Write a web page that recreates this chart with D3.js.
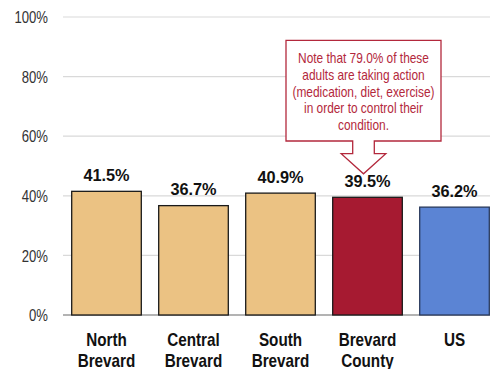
<!DOCTYPE html>
<html><head><meta charset="utf-8">
<script src="https://cdn.jsdelivr.net/npm/d3@7"></script>
<style>body{margin:0;background:#fff}svg{display:block}</style>
</head><body><div id="chart"></div>
<script>
const categories = [["North","Brevard"],["Central","Brevard"],["South","Brevard"],["Brevard","County"],["US"]];
const values = [41.5, 36.7, 40.9, 39.5, 36.2];
const barColors = ["#EBC283","#EBC283","#EBC283","#A61A31","#5B84D4"];
const yTicks = [0,20,40,60,80,100];
const noteLines = ["Note that 79.0% of these","adults are taking action","(medication, diet, exercise)","in order to control their","condition."];
const noteIndex = 3;

const W = 490, H = 369;
const sans = "'Liberation Sans',Arial,sans-serif";
const svg = d3.select("#chart").append("svg").attr("width", W).attr("height", H);

function narrowify(sel, f) {
  sel.each(function(){
    const L = this.getComputedTextLength();
    d3.select(this).attr("textLength", L * f).attr("lengthAdjust", "spacingAndGlyphs");
  });
}

const x = d3.scaleBand().domain(d3.range(values.length)).range([63, 498]).paddingInner(0.2).paddingOuter(0.1);
const y = d3.scaleLinear().domain([0, 100]).range([315, 17]);

// grid
svg.append("g").selectAll("line").data(yTicks).join("line")
  .attr("x1", 63).attr("x2", W).attr("y1", d => y(d)).attr("y2", d => y(d))
  .attr("stroke", d => d === 0 ? "#9a9a9a" : "#d9d9d9").attr("stroke-width", d => d === 0 ? 1.3 : 1.2);

const yAxis = d3.axisLeft(y).tickValues(yTicks).tickFormat(d => d + "%").tickSize(0).tickPadding(0);
const ga = svg.append("g").attr("transform", "translate(48,0)").call(yAxis);
ga.select(".domain").remove();
ga.selectAll("text").attr("font-family", sans).attr("font-size", 16).attr("fill", "#333").attr("dy", "0.35em")
  .call(narrowify, 0.82);

// bars
svg.append("g").selectAll("rect").data(values).join("rect")
  .attr("x", (d,i) => x(i)).attr("width", x.bandwidth())
  .attr("y", d => y(d)).attr("height", d => y(0) - y(d))
  .attr("fill", (d,i) => barColors[i]).attr("stroke", (d,i) => i === 4 ? "#2a3a5c" : "#1a1a1a").attr("stroke-width", 1.3);

// value labels
svg.append("g").selectAll("text").data(values).join("text")
  .attr("x", (d,i) => x(i) + x.bandwidth()/2).attr("y", d => y(d) - 10.5)
  .attr("text-anchor", "middle").attr("font-family", sans).attr("font-weight", "bold")
  .attr("font-size", 16.3).attr("fill", "#111").text(d => d.toFixed(1) + "%");

// category labels
const catLines = [];
categories.forEach((c, i) => c.forEach((t, j) => catLines.push({i, j, t})));
svg.append("g").selectAll("text").data(catLines).join("text")
  .attr("x", d => x(d.i) + x.bandwidth()/2).attr("y", d => 346 + d.j * 21)
  .attr("text-anchor", "middle").attr("font-family", sans).attr("font-weight", "bold")
  .attr("font-size", 18.6).attr("fill", "#111").text(d => d.t)
  .call(narrowify, 0.82);

// callout
const tipX = x(noteIndex) + x.bandwidth()/2 - 4;
const tipY = y(values[noteIndex]) - 23.5;
const bx0 = tipX - 77.5, bx1 = tipX + 77.5, by0 = 40.3, by1 = 141;
const s0 = tipX - 10.8, s1 = tipX + 10.8, wy = 153.7, w0 = tipX - 22.3, w1 = tipX + 22.3;
const p = d3.path();
p.moveTo(bx0, by0); p.lineTo(bx1, by0); p.lineTo(bx1, by1); p.lineTo(s1, by1); p.lineTo(s1, wy);
p.lineTo(w1, wy); p.lineTo(tipX, tipY); p.lineTo(w0, wy); p.lineTo(s0, wy); p.lineTo(s0, by1);
p.lineTo(bx0, by1); p.closePath();
svg.append("path").attr("d", p.toString()).attr("fill", "#fff").attr("stroke", "#B3283C").attr("stroke-width", 1.3);
svg.append("g").selectAll("text").data(noteLines).join("text")
  .attr("x", (bx0 + bx1)/2).attr("y", (d,i) => 63.3 + i*16.7)
  .attr("text-anchor", "middle").attr("font-family", sans).attr("font-size", 14.5)
  .attr("fill", "#B3283C").text(d => d)
  .call(narrowify, 0.82);
</script></body></html>
